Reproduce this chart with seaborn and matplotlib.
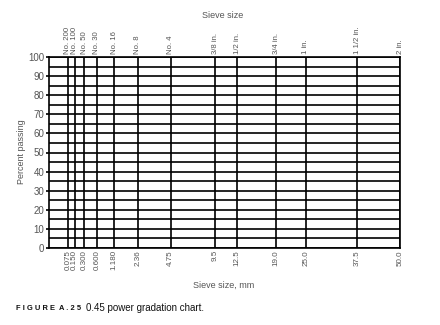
import numpy as np
import pandas as pd
import matplotlib
matplotlib.use("Agg")
import matplotlib.pyplot as plt
import seaborn as sns
from matplotlib.transforms import blended_transform_factory

sieve_mm = [0.075, 0.150, 0.300, 0.600, 1.180, 2.36, 4.75, 9.5, 12.5, 19.0, 25.0, 37.5, 50.0]
sieve_mm_labels = ["0.075", "0.150", "0.300", "0.600", "1.180", "2.36", "4.75",
                   "9.5", "12.5", "19.0", "25.0", "37.5", "50.0"]
sieve_names = ["No. 200", "No. 100", "No. 50", "No. 30", "No. 16", "No. 8", "No. 4",
               "3/8 in.", "1/2 in.", "3/4 in.", "1 in.", "1 1/2 in.", "2 in."]
percent_lines = list(range(0, 101, 5))
percent_ticks = list(range(0, 101, 10))
power = 0.45

sns.set_theme(style="white")
plt.rcParams['font.family'] = ['Liberation Sans', 'DejaVu Sans']

fig = plt.figure(figsize=(4.4, 3.25), dpi=100)
ax = fig.add_axes([49/440, 1-248/325, 351/440, 191/325])

fwd = lambda x: np.power(np.clip(x, 0, None), power)
inv = lambda y: np.power(np.clip(y, 0, None), 1/power)
ax.set_xscale('function', functions=(fwd, inv))

lw = 1.2
vdf = pd.DataFrame({
    "size": np.repeat(sieve_mm, 2),
    "pct": [0, 100] * len(sieve_mm),
    "unit": np.repeat(range(len(sieve_mm)), 2),
})
sns.lineplot(data=vdf, x="size", y="pct", units="unit", estimator=None,
             color="black", lw=lw, ax=ax, sort=False)
hdf = pd.DataFrame({
    "size": [0, 50.0] * len(percent_lines),
    "pct": np.repeat(percent_lines, 2),
    "unit": np.repeat(range(len(percent_lines)), 2),
})
sns.lineplot(data=hdf, x="size", y="pct", units="unit", estimator=None,
             color="black", lw=lw, ax=ax, sort=False)

ax.set_xlim(0, 50.0)
ax.set_ylim(0, 100)
for s in ax.spines.values():
    s.set_color("black")
    s.set_linewidth(lw)

tc = "#555555"
ax.set_xticks(sieve_mm)
ax.set_xticklabels(sieve_mm_labels, rotation=90, fontsize=5.8, color=tc)
ax.tick_params(axis='x', length=0, pad=1.5)
ax.set_yticks(percent_ticks)
ax.set_yticklabels([str(v) for v in percent_ticks], fontsize=7, color=tc)
ax.tick_params(axis='y', length=2.0, width=lw, color="black", pad=1.5, left=True)
ax.set_xlabel("")
ax.set_ylabel("")

trans = blended_transform_factory(ax.transData, ax.transAxes)
for x, name in zip(sieve_mm, sieve_names):
    ax.text(x, 1.0 + 2.5/191, name, transform=trans, rotation=90, ha="center",
            va="bottom", fontsize=5.6, color=tc)

fig.text(223/440, 1-16/325, "Sieve size", ha="center", va="center", fontsize=6.5, color=tc)
fig.text(224/440, 1-285/325, "Sieve size, mm", ha="center", va="center", fontsize=6.5, color=tc)
fig.text(22/440, 1-152/325, "Percent passing", ha="center", va="center",
         rotation=90, fontsize=6.5, color=tc)
fig.text(16/440, 1-308/325, "F I G U R E  A . 2 5", ha="left", va="center",
         fontsize=5.4, fontweight="bold", color="#111111")
fig.text(86/440, 1-308/325, "0.45 power gradation chart.", ha="left", va="center",
         fontsize=7, color="#111111")

fig.savefig("out.png", dpi=100)
